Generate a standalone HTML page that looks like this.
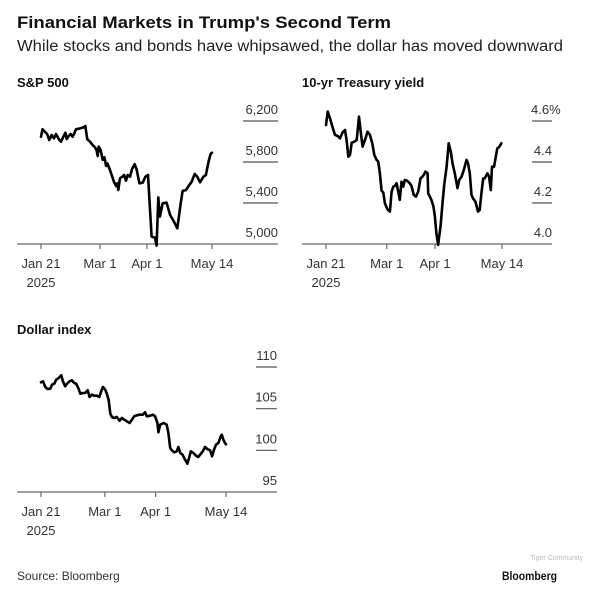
<!DOCTYPE html>
<html><head><meta charset="utf-8"><style>
html,body{margin:0;padding:0;background:#fff;width:604px;height:591px;overflow:hidden}
svg{font-family:"Liberation Sans",Arial,sans-serif}
</style></head><body>
<svg id="c" width="604" height="591" viewBox="0 0 604 591">
<text x="17" y="28" font-size="17" font-weight="bold" fill="#111" textLength="374" lengthAdjust="spacingAndGlyphs">Financial Markets in Trump's Second Term</text>
<text x="17" y="51" font-size="15.5" fill="#222" textLength="546" lengthAdjust="spacingAndGlyphs">While stocks and bonds have whipsawed, the dollar has moved downward</text>
<text x="17" y="580" font-size="12" fill="#333">Source: Bloomberg</text>
<text x="502" y="580" font-size="12" font-weight="bold" fill="#111" textLength="55" lengthAdjust="spacingAndGlyphs">Bloomberg</text>
<text x="530" y="560" font-size="7" fill="#bbb">Tiger Community</text>
</svg>
<script>
// ---- S&P 500 data ----
const spDays=[0,1,4,5.5,7,8.6,9.9,12.1,13.2,14.8,16.1,17,18.3,19.6,20.9,21.8,23.1,25.8,28,29.3,30.6,32.4,34.1,35.7,36.8,37.5,38.1,39.4,40.8,41.9,43,43.8,45.2,46.7,48.2,49.6,50.4,51.1,52.2,53.8,54.9,56.2,57.3,58.8,60.1,61.9,63.2,65,67.2,69,70.7,73.1,75.3,76.4,77.5,78.6,80.4,83,85.3,87.9,90.1,92.3,93.6,95.8,98,99.6,101.6,103.3,105.1,107.3,109,110.8,112.1,113];
const spValues=[6047,6119,6073,6015,6063,6031,6073,6015,5998,6047,6086,6024,6054,6073,6047,6073,6119,6128,6138,6151,6021,5998,5966,5943,5911,5859,5950,5917,5820,5846,5761,5787,5738,5673,5608,5566,5592,5527,5641,5657,5673,5618,5673,5657,5728,5780,5728,5592,5598,5657,5673,5072,5062,4984,5455,5267,5397,5403,5283,5218,5153,5397,5517,5527,5576,5608,5683,5657,5602,5657,5673,5810,5878,5891];
const spTicks=[5000,5400,5800,6200];
const spTickLabels=["5,000","5,400","5,800","6,200"];
// ---- 10-yr Treasury data ----
const tyDays=[0,1.1,2.6,4.1,5.8,7.5,9,10.5,12.2,13.2,14.3,15.4,16.5,18.2,19.7,21.2,22.4,23.5,25,26.7,28.2,29.7,31,32.5,33.5,34.6,35.7,36.8,37.8,39.5,41,42.1,43.2,44.2,45.3,46.4,47.4,48.5,49.6,50.6,52.1,53.8,54.9,56.4,57.7,59.2,60.7,61.8,62.8,63.9,65.2,65.6,66.7,67.7,69,69.9,70.9,72,73.5,74.8,75.9,77.4,78.8,80.1,81.2,82.7,84.4,85.5,87,88.5,90.2,91.2,92.3,93.4,94.4,95.9,97.6,98.7,99.8,100.9,101.9,103.6,104.7,105.8,106.6,107.9,109,110,111.1,112.6];
const tyValues=[4.580,4.646,4.613,4.572,4.532,4.527,4.515,4.543,4.556,4.507,4.426,4.434,4.494,4.499,4.507,4.621,4.540,4.475,4.507,4.548,4.532,4.491,4.434,4.410,4.402,4.345,4.260,4.250,4.198,4.169,4.158,4.255,4.280,4.283,4.296,4.255,4.215,4.304,4.280,4.312,4.309,4.296,4.283,4.239,4.231,4.255,4.320,4.328,4.337,4.353,4.345,4.247,4.231,4.215,4.182,4.133,4.052,3.995,4.085,4.198,4.288,4.377,4.491,4.450,4.394,4.345,4.272,4.312,4.328,4.361,4.410,4.394,4.345,4.239,4.223,4.207,4.158,4.166,4.247,4.320,4.320,4.345,4.328,4.263,4.377,4.377,4.426,4.467,4.472,4.491];
const tyTicks=[4.0,4.2,4.4,4.6];
const tyTickLabels=["4.0","4.2","4.4","4.6%"];
// ---- Dollar index data ----
const dxDays=[0,1.2,2.6,4.1,5.7,6.7,8.1,9.3,10.8,12.4,13.4,14.8,15.9,17.5,18.9,20.3,21.5,23,24,25.6,27,28.5,29.7,31.1,32.5,34.1,35.6,36.8,37.8,39.2,40.2,41.3,42.3,43.3,44.7,46.3,48,49.4,50.8,52.4,54.1,55.5,56.9,58.5,60.2,62.2,63.6,64.6,66.7,68.3,69.7,71.1,71.7,72.8,74.8,76.8,77.8,78.9,79.9,81.3,82.9,83.9,85,86.4,88,89.4,90.7,91.5,93.1,94.7,96.1,97.2,98.8,100.2,101.6,103.3,104.5,105.7,106.9,108.3,109.8,110.4,111.4,112.4,113];
const dxValues=[108.16,108.28,107.6,107.36,107.4,107.88,108.0,108.48,108.68,109.0,108.28,107.68,108.0,108.28,108.4,108.08,108.0,107.36,106.8,106.88,106.88,107.2,106.4,106.68,106.56,106.56,106.4,107.08,107.6,107.28,106.8,106.08,104.4,104.0,103.88,104.0,103.56,103.88,103.68,103.48,103.28,103.68,104.08,104.2,104.28,104.28,104.56,104.08,104.16,104.28,104.08,103.28,102.16,103.08,103.28,103.08,102.08,100.28,100.0,99.76,99.88,100.4,99.68,99.48,98.88,98.4,99.28,99.88,99.68,99.36,99.2,99.48,99.88,100.4,100.16,100.0,99.28,100.08,100.68,100.88,101.68,101.88,101.28,100.88,100.72];
const dxTicks=[95,100,105,110];
const dxTickLabels=["95","100","105","110"];
// shared date ticks (days from Jan 21)
const dateTicks=[0,39,70,113];
const dateTickLabels=["Jan 21","Mar 1","Apr 1","May 14"];

const NS="http://www.w3.org/2000/svg";
const svg=document.getElementById('c');
function mk(tag,attrs,parent){const e=document.createElementNS(NS,tag);for(const k in attrs)e.setAttribute(k,attrs[k]);(parent||svg).appendChild(e);return e;}

function panel(cfg){
  const g=mk('g',{});
  
  
  const xS=d=>cfg.x0+(d-0)*(cfg.x1-cfg.x0)/113;
  const yS=v=>cfg.yBase+(v-cfg.vMin)*(cfg.yTop-cfg.yBase)/(cfg.vMax-cfg.vMin);
  const t=mk('text',{x:17,y:cfg.titleY,'font-size':13,'font-weight':'bold',fill:'#111'},g);
  t.textContent=cfg.title;
  
  
  cfg.ticks.forEach((v,i)=>{
    const y=yS(v);
    if(i>0){
      const l=mk('line',{x1:cfg.gx0,x2:cfg.axR,y1:y,y2:y,stroke:'#555','stroke-width':1.2},g);
      
      
    }
    const tx=mk('text',{x:cfg.labX,y:y-7,'font-size':13,fill:'#333','text-anchor':'end'},g);
    tx.textContent=cfg.labels[i];
    if(cfg.labels[i].endsWith('%')){tx.setAttribute('text-anchor','start');tx.setAttribute('x',cfg.labX-21);}
    
    
  });
  const ax=mk('line',{x1:cfg.axL,x2:cfg.axR,y1:cfg.yBase,y2:cfg.yBase,stroke:'#666','stroke-width':1.3},g);
  
  
  dateTicks.forEach((d,i)=>{
    const x=xS(d);
    const tk=mk('line',{x1:x,x2:x,y1:cfg.yBase,y2:cfg.yBase+5,stroke:'#666','stroke-width':1.2},g);
    
    
    const tx=mk('text',{x:x,y:cfg.yBase+24,'font-size':13,fill:'#333','text-anchor':'middle'},g);
    tx.textContent=dateTickLabels[i];
    
    
  });
  const yr=mk('text',{x:xS(0),y:cfg.yBase+43,'font-size':13,fill:'#333','text-anchor':'middle'},g);
  yr.textContent='2025';
  
  
  const d=cfg.days.map((dd,i)=>(i?'L':'M')+xS(dd).toFixed(1)+' '+yS(cfg.vals[i]).toFixed(1)).join(' ');
  const p=mk('path',{d:d,fill:'none',stroke:'#000','stroke-width':2.6,'stroke-linejoin':'round','stroke-linecap':'round'},g);
  
  
}
panel({name:'sp500',title:'S&P 500',titleY:87,x0:41,x1:212,axL:17,axR:278,gx0:243,labX:278,yBase:244,yTop:121,vMin:5000,vMax:6200,ticks:spTicks,labels:spTickLabels,days:spDays,vals:spValues});
panel({name:'treasury',title:'10-yr Treasury yield',titleY:87,x0:326,x1:502,axL:302,axR:552,gx0:532,labX:552,yBase:244,yTop:121,vMin:4.0,vMax:4.6,ticks:tyTicks,labels:tyTickLabels,days:tyDays,vals:tyValues});
// treasury title x fix
svg.lastChild.querySelector('text').setAttribute('x',302);
panel({name:'dollar',title:'Dollar index',titleY:334,x0:41,x1:226,axL:17,axR:277,gx0:256,labX:277,yBase:492,yTop:367,vMin:95,vMax:110,ticks:dxTicks,labels:dxTickLabels,days:dxDays,vals:dxValues});
</script>
</body></html>
